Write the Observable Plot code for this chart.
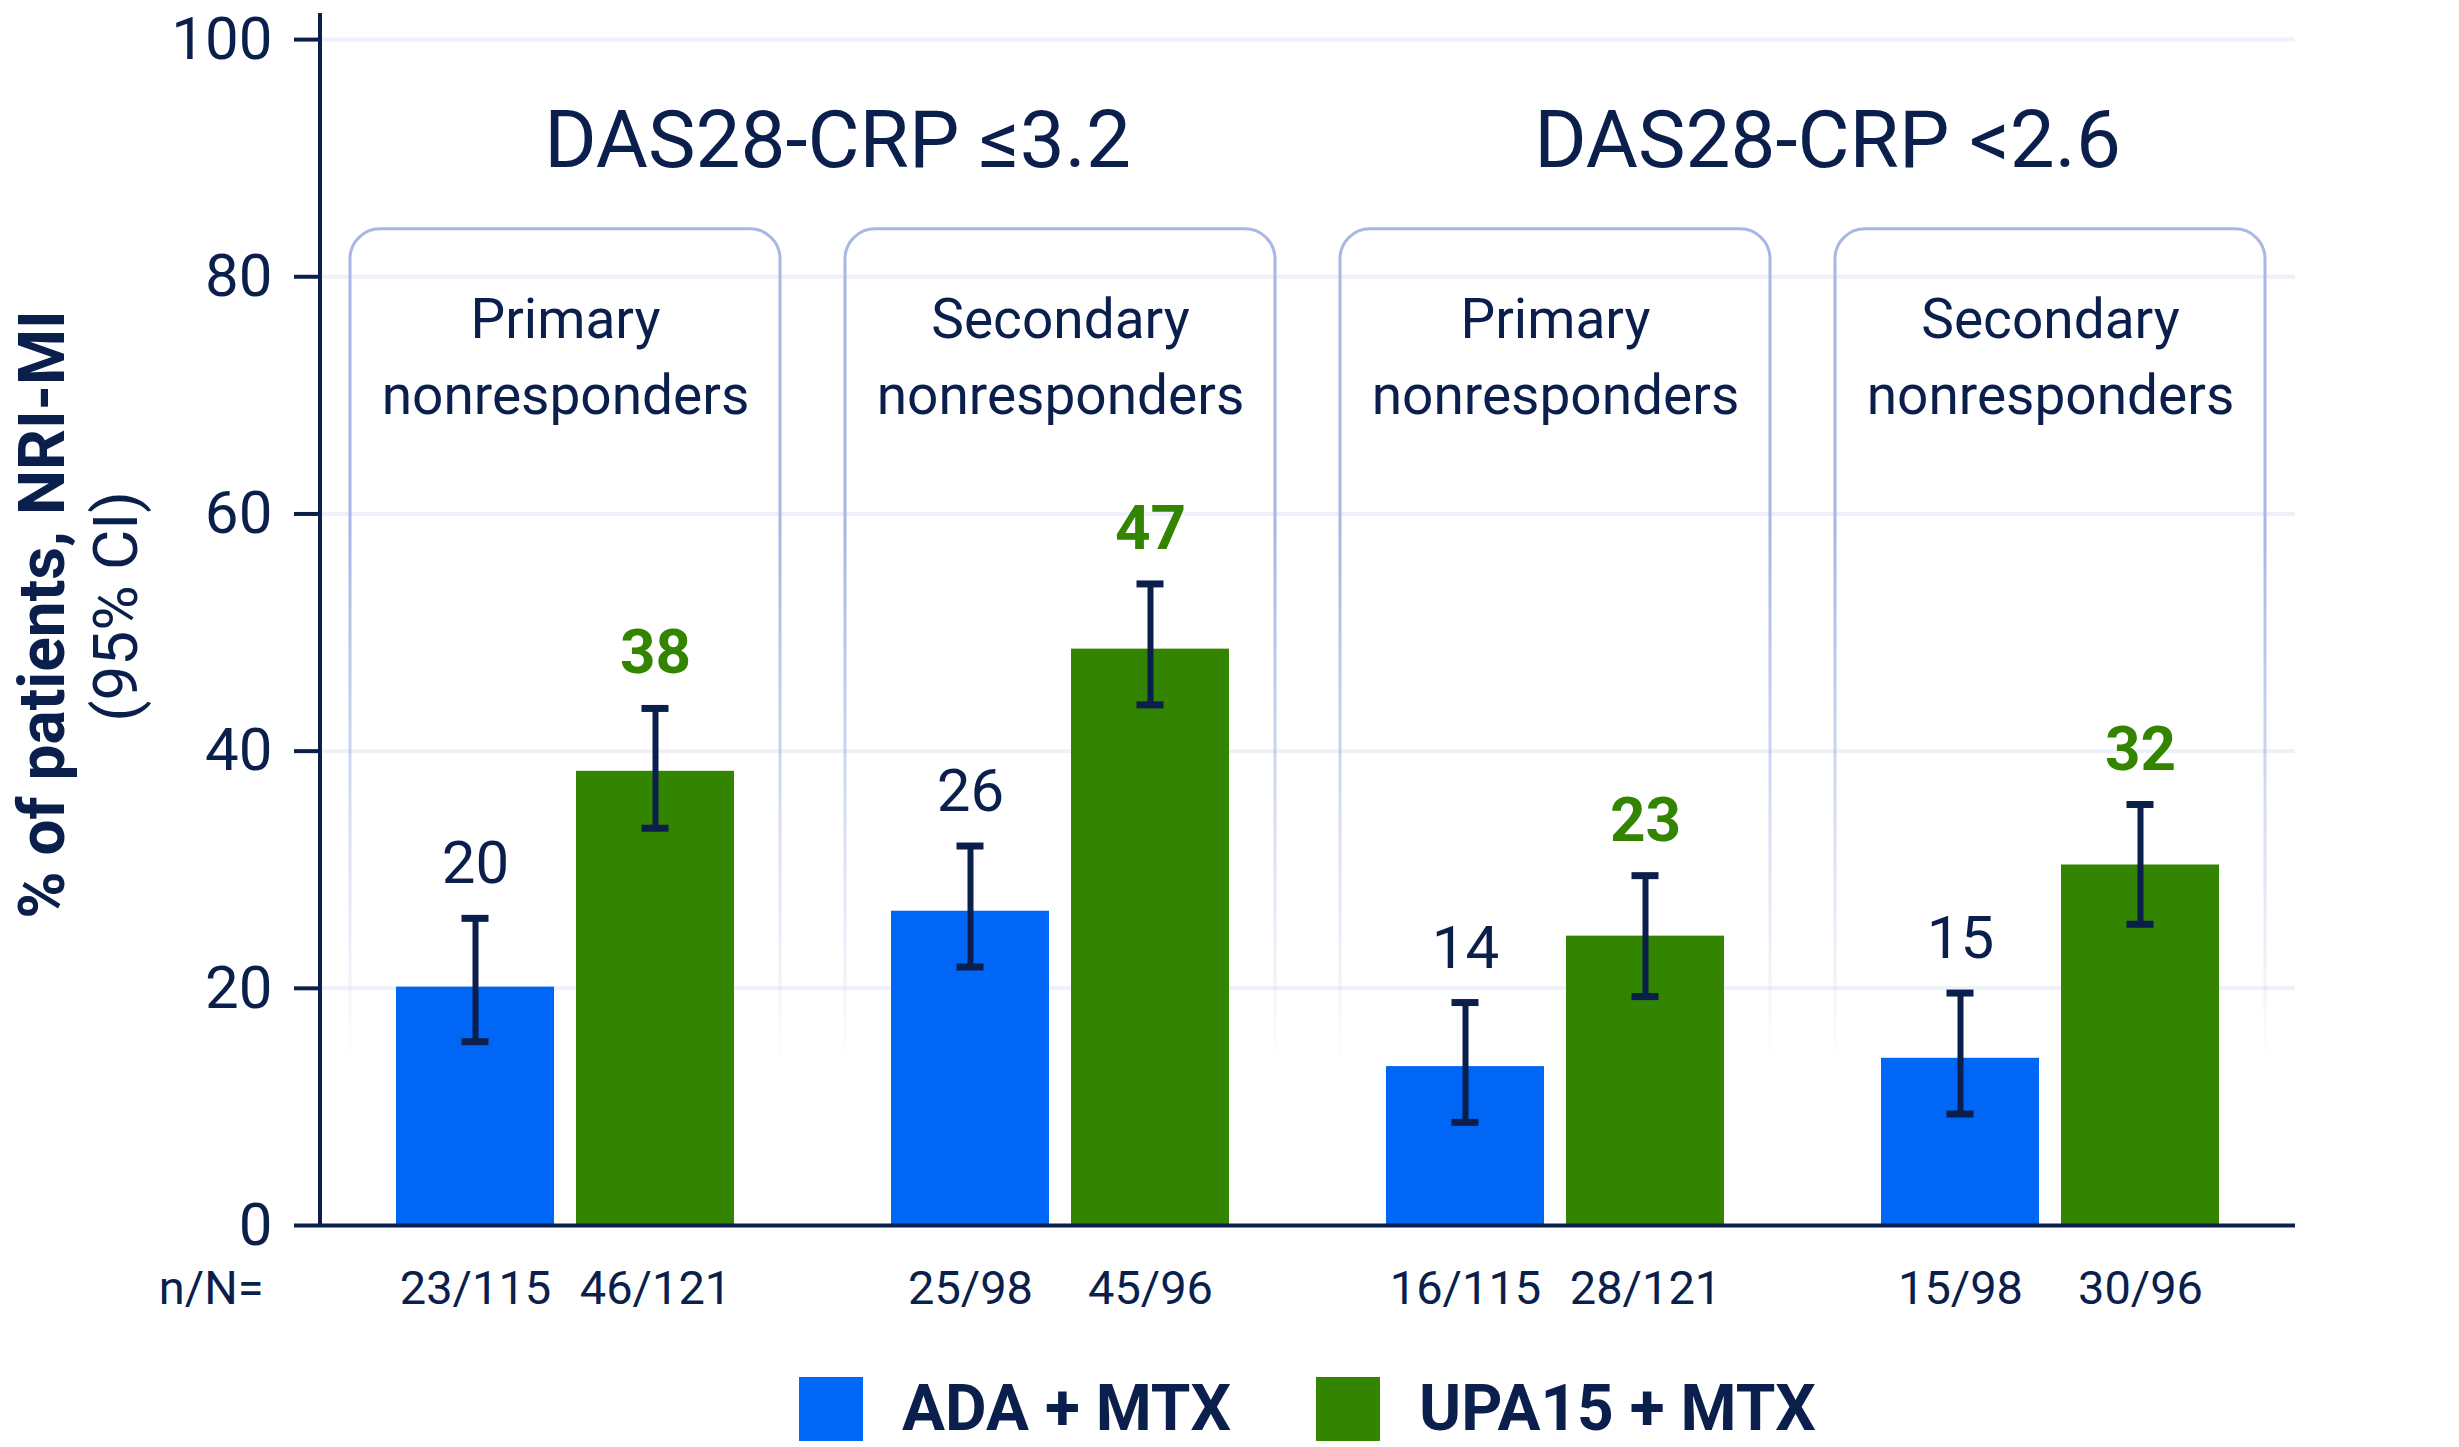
<!DOCTYPE html>
<html>
<head>
<meta charset="utf-8">
<script src="https://cdn.jsdelivr.net/npm/d3@7"></script>
<script src="https://cdn.jsdelivr.net/npm/@observablehq/plot@0.6"></script>
<style>
  body { margin: 0; background: #ffffff; font-family: Roboto, sans-serif; }
  #legend {
    display: flex; justify-content: center; align-items: center;
    box-sizing: border-box; width: 2459px; padding-left: 320px; padding-right: 164px;
    margin-top: 38px; height: 65px;
    font-family: Roboto, sans-serif; font-weight: 700; font-size: 64px; color: #0B1F4D;
  }
  .item { display: flex; align-items: center; }
  .sw { width: 64px; height: 64px; display: inline-block; margin-right: 39px; }
</style>
</head>
<body>
<div id="chart"></div>
<div id="legend"></div>
<script>
// ---------------- data ----------------
const thresholds = ["DAS28-CRP \u22643.2", "DAS28-CRP <2.6"];
const subgroups = ["\u22643.2 Primary", "\u22643.2 Secondary", "<2.6 Primary", "<2.6 Secondary"];
const subgroupLabels = ["Primary\nnonresponders", "Secondary\nnonresponders", "Primary\nnonresponders", "Secondary\nnonresponders"];
const treatments = ["ADA + MTX", "UPA15 + MTX"];

const adaValues = [20.1, 26.5, 13.4, 14.1];
const adaLow    = [15.5, 21.8, 8.7, 9.4];
const adaHigh   = [25.9, 32.0, 18.8, 19.6];
const adaLabels = ["20", "26", "14", "15"];
const adaN      = ["23/115", "25/98", "16/115", "15/98"];

const upaValues = [38.3, 48.6, 24.4, 30.4];
const upaLow    = [33.5, 43.9, 19.3, 25.4];
const upaHigh   = [43.6, 54.1, 29.5, 35.5];
const upaLabels = ["38", "47", "23", "32"];
const upaN      = ["46/121", "45/96", "28/121", "30/96"];

const yTicks = [0, 20, 40, 60, 80, 100];
const gridTicks = [20, 40, 60, 80, 100];
const yTitle = "% of patients, NRI-MI";
const ySubTitle = "(95% CI)";
const nLabel = "n/N=";

// ---------------- styling ----------------
const navy = "#0B1F4D";
const blue = "#0066F5";
const green = "#338400";
const boxColor = "#A9B8E2";
const gridColor = "#EEF1FB";
const yMax = 102.2;

const ada = subgroups.map((s, i) => ({subgroup: s, value: adaValues[i], lo: adaLow[i], hi: adaHigh[i], label: adaLabels[i], n: adaN[i]}));
const upa = subgroups.map((s, i) => ({subgroup: s, value: upaValues[i], lo: upaLow[i], hi: upaHigh[i], label: upaLabels[i], n: upaN[i]}));
const boxes = subgroups.map((s, i) => ({subgroup: s, label: subgroupLabels[i]}));
const headers = thresholds.map((t, i) => ({text: t, subgroup: subgroups[i * 2]}));

// insets inside a 431px band: bars 159px wide, 21px apart
const outerInset = 46, innerInset = 226;
const off = 90;

function gradientDefs() {
  const defs = d3.create("svg:defs");
  const lg = defs.append("linearGradient").attr("id", "boxFade")
    .attr("x1", 0).attr("y1", 0).attr("x2", 0).attr("y2", 1);
  lg.append("stop").attr("offset", "0").attr("stop-color", boxColor).attr("stop-opacity", 1);
  lg.append("stop").attr("offset", "0.36").attr("stop-color", boxColor).attr("stop-opacity", 1);
  lg.append("stop").attr("offset", "0.98").attr("stop-color", boxColor).attr("stop-opacity", 0);
  return defs.node();
}

function yAxisLine(index, scales, values, dims) {
  const g = d3.create("svg:g");
  g.append("line")
    .attr("x1", dims.marginLeft).attr("x2", dims.marginLeft)
    .attr("y1", scales.y(0)).attr("y2", scales.y(yMax))
    .attr("stroke", navy).attr("stroke-width", 4);
  return g.node();
}

const chart = Plot.plot({
  width: 2459,
  height: 1338,
  marginLeft: 320,
  marginRight: 164,
  marginTop: 13,
  marginBottom: 113,
  style: {fontFamily: "Roboto, sans-serif", background: "#ffffff", color: navy, overflow: "visible"},
  x: {domain: subgroups, paddingInner: 0.131, paddingOuter: 0.0565, axis: null},
  y: {domain: [0, yMax], axis: null},
  marks: [
    gradientDefs,
    Plot.ruleY(gridTicks, {stroke: gridColor, strokeWidth: 4}),
    Plot.barY(boxes, {x: "subgroup", y1: 12, y2: 84, fill: "none", stroke: "url(#boxFade)", strokeWidth: 3, rx: 30}),
    Plot.text(boxes, {x: "subgroup", text: "label", frameAnchor: "top", dy: 400, lineAnchor: "bottom", lineHeight: 1.38, fontSize: 55, fill: navy}),
    Plot.text(headers, {x: "subgroup", text: "text", frameAnchor: "top", dx: 272, dy: 153, lineAnchor: "bottom", fontSize: 80, fill: navy}),
    Plot.barY(ada, {x: "subgroup", y: "value", fill: blue, insetLeft: outerInset, insetRight: innerInset}),
    Plot.barY(upa, {x: "subgroup", y: "value", fill: green, insetLeft: innerInset, insetRight: outerInset}),
    Plot.ruleY([0], {stroke: navy, strokeWidth: 4}),
    Plot.axisY({ticks: yTicks, tickSize: 26, tickPadding: 22, fontSize: 60, tickFormat: d => d, color: navy, strokeWidth: 4, label: null}),
    yAxisLine,
    // error bars
    Plot.ruleX(ada, {x: "subgroup", y1: "lo", y2: "hi", dx: -off, stroke: navy, strokeWidth: 6}),
    Plot.ruleX(upa, {x: "subgroup", y1: "lo", y2: "hi", dx: off, stroke: navy, strokeWidth: 6}),
    Plot.tickY(ada, {x: "subgroup", y: "hi", stroke: navy, strokeWidth: 7, insetLeft: 111.5, insetRight: 291.5}),
    Plot.tickY(ada, {x: "subgroup", y: "lo", stroke: navy, strokeWidth: 7, insetLeft: 111.5, insetRight: 291.5}),
    Plot.tickY(upa, {x: "subgroup", y: "hi", stroke: navy, strokeWidth: 7, insetLeft: 291.5, insetRight: 111.5}),
    Plot.tickY(upa, {x: "subgroup", y: "lo", stroke: navy, strokeWidth: 7, insetLeft: 291.5, insetRight: 111.5}),
    // value labels
    Plot.text(ada, {x: "subgroup", y: "hi", text: "label", dx: -off, dy: -35, lineAnchor: "bottom", fontSize: 60, fill: navy}),
    Plot.text(upa, {x: "subgroup", y: "hi", text: "label", dx: off, dy: -35, lineAnchor: "bottom", fontSize: 62, fontWeight: "bold", fill: green}),
    // n/N labels
    Plot.text(ada, {x: "subgroup", text: "n", frameAnchor: "bottom", dx: -off, dy: 78, lineAnchor: "bottom", fontSize: 47, fill: navy}),
    Plot.text(upa, {x: "subgroup", text: "n", frameAnchor: "bottom", dx: off, dy: 78, lineAnchor: "bottom", fontSize: 47, fill: navy}),
    Plot.text([nLabel], {text: d => d, frameAnchor: "bottom-left", textAnchor: "end", dx: -57, dy: 78, lineAnchor: "bottom", fontSize: 47, fill: navy}),
    // y title
    Plot.text([yTitle], {text: d => d, frameAnchor: "left", rotate: -90, dx: -277, dy: -5, textAnchor: "middle", lineAnchor: "middle", fontSize: 64, fontWeight: "bold", fill: navy}),
    Plot.text([ySubTitle], {text: d => d, frameAnchor: "left", rotate: -90, dx: -203, dy: -13, textAnchor: "middle", lineAnchor: "middle", fontSize: 62, fill: navy})
  ]
});
document.getElementById("chart").appendChild(chart);

// legend
const legendColors = [blue, green];
const legend = d3.select("#legend");
treatments.forEach((t, i) => {
  const item = legend.append("div").attr("class", "item").style("margin-left", i ? "85px" : "0px");
  item.append("span").attr("class", "sw").style("background", legendColors[i]);
  item.append("span").text(t);
});
</script>
</body>
</html>
